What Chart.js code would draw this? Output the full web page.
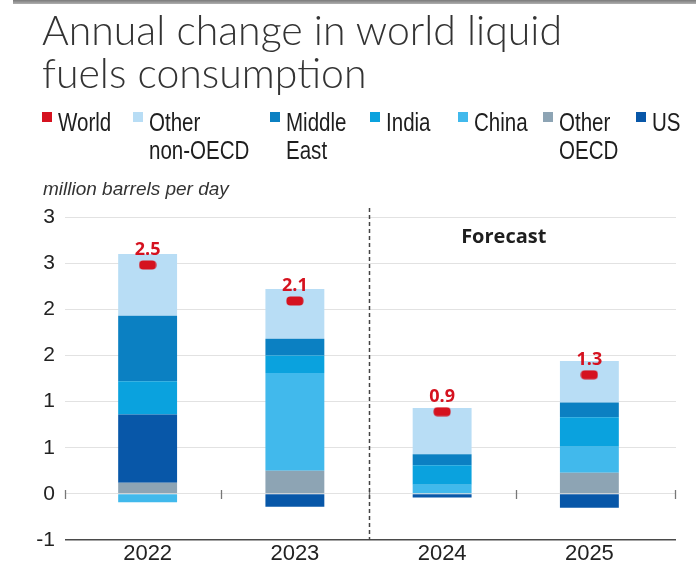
<!DOCTYPE html>
<html><head><meta charset="utf-8">
<script src="https://cdn.jsdelivr.net/npm/chart.js@4.4.0/dist/chart.umd.min.js"></script>
<style>
html,body{margin:0;padding:0;background:#fff;}
#wrap{position:relative;width:696px;height:568px;overflow:hidden;background:#fff;}
#topbar{position:absolute;left:13px;top:0;width:683px;height:4px;background:linear-gradient(#7a7a7a,#b0b0b0);}
#title{position:absolute;left:42px;top:8px;font-family:Lato,"Open Sans",sans-serif;font-weight:300;font-size:41px;line-height:43px;color:#333;white-space:nowrap;}
.li{position:absolute;top:108px;height:60px;font-family:"Liberation Sans",sans-serif;font-size:26px;line-height:28px;color:#1e1e1e;white-space:pre;}
.sw{position:absolute;left:0;top:4px;width:10px;height:10px;}
.tx{position:absolute;left:16px;top:0;transform:scaleX(0.79);transform-origin:0 0;}
#unit{position:absolute;left:43px;top:178px;font-family:"Liberation Sans",sans-serif;font-style:italic;font-size:19px;line-height:22px;color:#333;white-space:nowrap;}
canvas{position:absolute;left:0;top:0;}
</style>
</head>
<body>
<div id="wrap">
  <canvas id="c" width="696" height="568" style="width:696px;height:568px"></canvas>
  <div id="topbar"></div>
  <div id="title">Annual change in world liquid<br>fuels consumption</div>
  <div id="legend"></div>
  <div id="unit">million barrels per day</div>
</div>
<script>
// ---- data ----
const categories = ['2022', '2023', '2024', '2025'];
const world        = [2.48, 2.09, 0.89, 1.29];
const otherNonOECD = [0.67, 0.54, 0.50, 0.45];
const middleEast   = [0.71, 0.18, 0.12, 0.16];
const india        = [0.36, 0.19, 0.21, 0.32];
const china        = [-0.09, 1.06, 0.10, 0.28];
const otherOECD    = [0.12, 0.25, 0.00, 0.23];
const us           = [0.74, -0.14, -0.04, -0.15];
const yTickLabels  = ['-1', '0', '1', '1', '2', '2', '3', '3'];
const forecastLabel = 'Forecast';

// ---- styling ----
const RED = '#d5121f';
const COLORS = {
  'World': RED,
  'Other non-OECD': '#b8ddf5',
  'Middle East': '#0b80c2',
  'India': '#0aa2de',
  'China': '#41b9ec',
  'Other OECD': '#8da4b4',
  'US': '#0857a8'
};
const legendOrder = ['World', 'Other non-OECD', 'Middle East', 'India', 'China', 'Other OECD', 'US'];
const legendX = [42, 133, 270, 370, 458, 543, 636];
const SANS = '"Liberation Sans", Arial, sans-serif';

// marker image for World
const marker = document.createElement('canvas');
marker.width = 18; marker.height = 10;
(function(){
  const m = marker.getContext('2d');
  m.fillStyle = RED;
  m.beginPath();
  m.roundRect(0.5, 0.5, 17, 9, 4);
  m.fill();
})();

function bar(label, data) {
  return { type: 'bar', label, data, backgroundColor: COLORS[label], borderWidth: 0,
           barPercentage: 0.4, categoryPercentage: 1.0, order: 1 };
}

const datasets = [
  { type: 'line', label: 'World', data: world, showLine: false, pointStyle: marker,
    pointRadius: 9, backgroundColor: RED, borderColor: RED, order: 0 },
  bar('Other OECD', otherOECD),
  bar('US', us),
  bar('China', china),
  bar('India', india),
  bar('Middle East', middleEast),
  bar('Other non-OECD', otherNonOECD)
];

// ---- HTML legend ----
const lg = document.getElementById('legend');
legendOrder.forEach((name, i) => {
  const d = document.createElement('div');
  d.className = 'li';
  d.style.left = legendX[i] + 'px';
  const s = document.createElement('div'); s.className = 'sw'; s.style.background = COLORS[name];
  const t = document.createElement('div'); t.className = 'tx'; t.textContent = name.replace(' ', '\n');
  d.appendChild(s); d.appendChild(t); lg.appendChild(d);
});

function gridColor(v) { return v === -0.5 ? '#4a4a4a' : '#e2e2e2'; }
function gridWidth(v) { return v === -0.5 ? 1.5 : 1; }

const extras = {
  id: 'extras',
  beforeDatasetsDraw(chart) {
    const { ctx, chartArea, scales: { x, y } } = chart;
    ctx.save();
    y.ticks.forEach(t => {
      const w = gridWidth(t.value);
      const py = Math.round(y.getPixelForValue(t.value) - w / 2) + w / 2;
      ctx.strokeStyle = gridColor(t.value);
      ctx.lineWidth = w;
      ctx.beginPath(); ctx.moveTo(chartArea.right, py); ctx.lineTo(chartArea.right + 13, py); ctx.stroke();
    });
    const py0 = Math.round(y.getPixelForValue(0));
    const xs = [chartArea.left - 9];
    for (let i = 0; i < categories.length - 1; i++) xs.push((x.getPixelForValue(i) + x.getPixelForValue(i + 1)) / 2);
    xs.push(chartArea.right + 12);
    ctx.strokeStyle = '#777'; ctx.lineWidth = 1.3;
    xs.forEach(px => { const p = Math.round(px) + 0.5; ctx.beginPath(); ctx.moveTo(p, py0 - 4); ctx.lineTo(p, py0 + 5); ctx.stroke(); });
    ctx.restore();
  },
  afterDatasetsDraw(chart) {
    const { ctx, chartArea, scales: { x, y } } = chart;
    ctx.save();
    const px = Math.round((x.getPixelForValue(1) + x.getPixelForValue(2)) / 2) + 0.5;
    ctx.setLineDash([4, 3]); ctx.strokeStyle = '#444'; ctx.lineWidth = 1.5;
    ctx.beginPath(); ctx.moveTo(px, chartArea.top - 9); ctx.lineTo(px, chartArea.bottom); ctx.stroke();
    ctx.setLineDash([]);
    ctx.font = '700 20px "Open Sans", sans-serif';
    ctx.fillStyle = '#1e1e1e'; ctx.textAlign = 'center'; ctx.textBaseline = 'middle';
    const fx = (x.getPixelForValue(2) + x.getPixelForValue(3)) / 2 - 12;
    ctx.fillText(forecastLabel, fx, chartArea.top + 20);
    const meta = chart.getDatasetMeta(0);
    ctx.font = '700 18px "Open Sans", sans-serif';
    ctx.fillStyle = RED;
    meta.data.forEach((pt, i) => ctx.fillText(world[i].toFixed(1), pt.x, pt.y - 15));
    ctx.restore();
  }
};

Chart.defaults.font.family = SANS;
Chart.defaults.color = '#2a2a2a';

new Chart(document.getElementById('c'), {
  type: 'bar',
  data: { labels: categories, datasets },
  options: {
    responsive: false,
    animation: false,
    layout: { padding: { top: 217, right: 33, bottom: 0, left: 0 } },
    plugins: { legend: { display: false }, tooltip: { enabled: false }, title: { display: false } },
    scales: {
      x: {
        stacked: true,
        grid: { display: false, drawTicks: false, tickLength: 0 },
        border: { display: false },
        ticks: { font: { size: 22 }, color: '#222', padding: 1, maxRotation: 0 },
        afterFit(s) { s.height = 28; }
      },
      y: {
        stacked: true,
        min: -0.5, max: 3,
        border: { display: false },
        grid: {
          color: c => gridColor(c.tick ? c.tick.value : 0),
          lineWidth: c => gridWidth(c.tick ? c.tick.value : 0),
          drawTicks: true, tickLength: 9
        },
        ticks: {
          stepSize: 0.5, padding: 10, font: { size: 21 }, color: '#222',
          callback: (v, i) => yTickLabels[i]
        },
        afterFit(s) { s.width = 74; }
      }
    }
  },
  plugins: [extras]
});
</script>
</body></html>
